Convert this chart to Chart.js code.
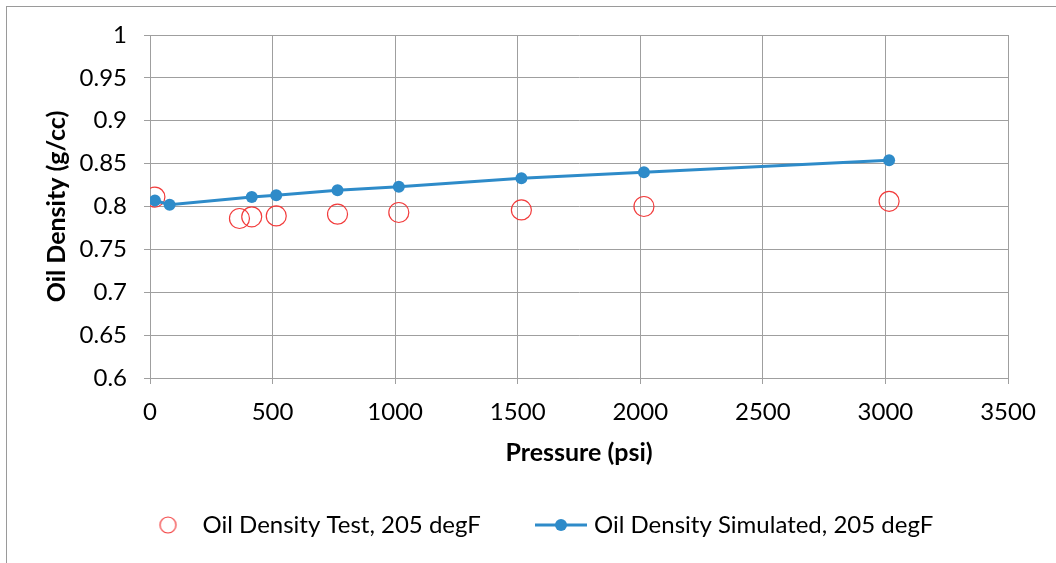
<!DOCTYPE html>
<html><head><meta charset="utf-8">
<script src="https://cdn.jsdelivr.net/npm/chart.js@4.4.1/dist/chart.umd.min.js"></script>
<style>
html,body{margin:0;padding:0;background:#fff;}
#wrap{position:relative;width:1056px;height:563px;overflow:hidden;background:#fff;}
#frame{position:absolute;left:6px;top:6px;width:1200px;height:700px;border-left:1px solid #9a9a9a;border-top:1px solid #9a9a9a;}
canvas{position:absolute;left:0;top:0;}
</style></head><body>
<div id="wrap"><div id="frame"></div><canvas id="c" width="1056" height="563"></canvas></div>
<script>
// ---- data ----
const testLabel = 'Oil Density Test, 205 degF';
const simLabel = 'Oil Density Simulated, 205 degF';
const testPressure = [20, 365, 415, 515, 765, 1015, 1515, 2015, 3015];
const testDensity  = [0.811, 0.786, 0.788, 0.789, 0.791, 0.793, 0.796, 0.800, 0.806];
const simPressure  = [20, 80, 415, 515, 765, 1015, 1515, 2015, 3015];
const simDensity   = [0.807, 0.802, 0.811, 0.813, 0.819, 0.823, 0.833, 0.840, 0.854];
const xTicks = [0, 500, 1000, 1500, 2000, 2500, 3000, 3500];
const yTicks = [0.6, 0.65, 0.7, 0.75, 0.8, 0.85, 0.9, 0.95, 1];

// ---- styles / layout ----
const RED = '#f23b3b', BLUE = '#2e8bc9', GRID = '#9f9f9f';
const FONT = 'Lato, "Open Sans", sans-serif';
const TICK_SIZE = 24, TITLE_SIZE = 25, LEGEND_SIZE = 24;
const AREA = {left:150, right:1008, top:35, bottom:378};
const H = 563;
const LEG_PAD = 10, LEG_CENTER_Y = 525;
const legTop = LEG_CENTER_Y - LEG_PAD - LEGEND_SIZE/2;
const legH = LEG_PAD + LEGEND_SIZE + LEG_PAD;
const padBottom = H - legTop - legH;
const xH = legTop - AREA.bottom;
const TL = 6;
const TITLE_LH = TITLE_SIZE * 1.2, TICK_LH = TICK_SIZE * 1.2;
const XTITLE_Y = 453, YTITLE_X = 57, XTICK_Y = 412, YTICK_RIGHT = 127;
const BOXW = 42;
const LEG_X1 = 148.5;      // first legend item start
const LEG_X2 = 542;        // second legend item start

function marker(kind){
  const c=document.createElement('canvas'); c.width=52; c.height=22;
  const g=c.getContext('2d');
  if(kind==='test'){ g.strokeStyle=RED; g.lineWidth=1.2; g.beginPath(); g.arc(24.5,11,8,0,2*Math.PI); g.stroke(); }
  else { g.strokeStyle=BLUE; g.lineWidth=3; g.beginPath(); g.moveTo(0,11); g.lineTo(52,11); g.stroke();
         g.fillStyle=BLUE; g.beginPath(); g.arc(26,11,6,0,2*Math.PI); g.fill(); }
  return c;
}
function padTo(text, target){
  const g=document.createElement('canvas').getContext('2d');
  g.font = LEGEND_SIZE+'px '+FONT;
  let t=text; while(g.measureText(t+' ').width <= target) t+=' ';
  return t;
}
const item1TextW = LEG_X2 - LEG_X1 - BOXW - LEGEND_SIZE/2 - LEG_PAD;

const legendShift = { id:'legendShift', afterLayout(chart){ chart.legend.left = LEG_X1 - LEG_PAD; } };

const fmt = v => String(+Number(v).toFixed(2));

new Chart(document.getElementById('c'), {
  type:'scatter',
  data:{ datasets:[
    { label:testLabel, data:testPressure.map((p,i)=>({x:p,y:testDensity[i]})),
      showLine:false, pointStyle:'circle', pointRadius:10, borderColor:RED, borderWidth:1.2,
      backgroundColor:'rgba(0,0,0,0)', order:1 },
    { label:simLabel, data:simPressure.map((p,i)=>({x:p,y:simDensity[i]})),
      showLine:true, borderColor:BLUE, borderWidth:3, pointRadius:6, pointBackgroundColor:BLUE,
      pointBorderWidth:0, backgroundColor:BLUE, tension:0, order:0 }
  ]},
  options:{
    responsive:false, devicePixelRatio:1, animation:false, events:[],
    layout:{ padding:{ left:0, top:AREA.top, right:1056-AREA.right, bottom:padBottom } },
    plugins:{
      tooltip:{enabled:false},
      legend:{ position:'bottom', align:'start',
        labels:{ usePointStyle:true, pointStyleWidth:BOXW, boxHeight:LEGEND_SIZE, padding:LEG_PAD,
          color:'#000', font:{family:FONT, size:LEGEND_SIZE},
          generateLabels: () => [
            {text:padTo(testLabel, item1TextW), pointStyle:marker('test'), datasetIndex:0, hidden:false, lineWidth:0, fillStyle:RED, strokeStyle:RED, fontColor:'#000'},
            {text:simLabel, pointStyle:marker('sim'), datasetIndex:1, hidden:false, lineWidth:0, fillStyle:BLUE, strokeStyle:BLUE, fontColor:'#000'}
          ] } }
    },
    scales:{
      x:{ type:'linear', min:xTicks[0], max:xTicks[xTicks.length-1],
        afterBuildTicks: s => { s.ticks = xTicks.map(v=>({value:v})); },
        afterFit: s => { s.height = xH; },
        ticks:{ autoSkip:false, maxRotation:0, color:'#000', font:{family:FONT,size:TICK_SIZE},
          padding: XTICK_Y - AREA.bottom - TL - TICK_LH/2, callback:v=>String(v) },
        grid:{ color:GRID, tickColor:GRID, tickLength:TL, lineWidth:1 },
        border:{ color:GRID },
        title:{ display:true, text:'Pressure (psi)', color:'#000', font:{family:FONT,size:TITLE_SIZE,weight:'bold'},
          padding:{top:0,bottom: legTop - XTITLE_Y - TITLE_LH/2} } },
      y:{ type:'linear', min:yTicks[0], max:yTicks[yTicks.length-1],
        afterBuildTicks: s => { s.ticks = yTicks.map(v=>({value:v})); },
        afterFit: s => { s.width = AREA.left; },
        ticks:{ autoSkip:false, color:'#000', font:{family:FONT,size:TICK_SIZE}, padding: AREA.left - TL - YTICK_RIGHT, callback:fmt },
        grid:{ color:GRID, tickColor:GRID, tickLength:TL, lineWidth:1 },
        border:{ color:GRID },
        title:{ display:true, text:'Oil Density (g/cc)', color:'#000', font:{family:FONT,size:TITLE_SIZE,weight:'bold'},
          padding:{top: YTITLE_X - TITLE_LH/2, bottom:0} } }
    }
  },
  plugins:[legendShift]
});
</script>
</body></html>
